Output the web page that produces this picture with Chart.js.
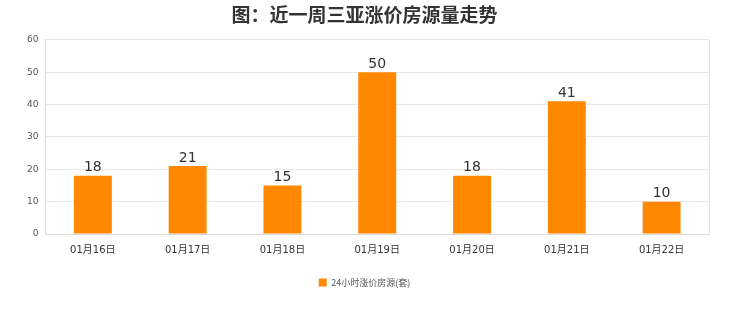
<!DOCTYPE html>
<html><head><meta charset="utf-8">
<script src="https://cdn.jsdelivr.net/npm/chart.js@4/dist/chart.umd.min.js"></script>
<style>html,body{margin:0;padding:0;background:#fff}#w{width:740px;height:312px}</style>
</head><body><div id="w"><canvas id="c"></canvas></div>
<script>
const categories = ["01月16日","01月17日","01月18日","01月19日","01月20日","01月21日","01月22日"];
const values = [18,21,15,50,18,41,10];
const seriesName = "24小时涨价房源(套)";
const titleText = "图：近一周三亚涨价房源量走势";

const labelPlugin = {
  id:'lbl',
  afterDatasetsDraw(chart){
    const ctx = chart.ctx;
    const meta = chart.getDatasetMeta(0);
    ctx.save();
    ctx.font = '14px "DejaVu Sans", sans-serif';
    ctx.fillStyle = '#333';
    ctx.textAlign = 'center';
    ctx.textBaseline = 'bottom';
    meta.data.forEach((b,i)=>{ ctx.fillText(String(values[i]), b.x, b.y-1); });
    ctx.restore();
  }
};
const borderPlugin = {
  id:'bd',
  beforeDatasetsDraw(chart){
    const a = chart.chartArea, ctx = chart.ctx;
    ctx.save(); ctx.strokeStyle='#e0e0e0'; ctx.lineWidth=1;
    ctx.beginPath(); ctx.moveTo(Math.round(a.right)+0.5,a.top); ctx.lineTo(Math.round(a.right)+0.5,a.bottom); ctx.stroke();
    ctx.restore();
  }
};
new Chart(document.getElementById('c'),{
  type:'bar',
  data:{labels:categories,datasets:[{label:seriesName,data:values,backgroundColor:'#ff8800',borderWidth:0,barPercentage:0.4,categoryPercentage:1}]},
  options:{
    responsive:true,maintainAspectRatio:false,animation:false,
    layout:{padding:{left:20,right:31,top:0,bottom:15}},
    plugins:{
      title:{display:true,text:titleText,color:'#333',font:{size:19,weight:'bold',family:'"Noto Sans CJK SC", sans-serif'},padding:{top:3,bottom:14}},
      legend:{position:'bottom',labels:{boxWidth:8,boxHeight:8,color:'#555',font:{size:9,family:'"Noto Sans CJK SC", sans-serif'},padding:15}},
      tooltip:{enabled:false}
    },
    scales:{
      x:{grid:{display:false},border:{color:'#ddd'},ticks:{color:'#333',font:{size:10,family:'"DejaVu Sans", "Noto Sans CJK SC", sans-serif'},padding:2},
         afterFit(s){ s.height += 5; }},
      y:{min:0,max:60,ticks:{stepSize:10,color:'#555',font:{size:9,family:'"DejaVu Sans", sans-serif'},padding:7},grid:{color:'#e8e8e8',drawTicks:false},border:{color:'#ddd'}}
    }
  },
  plugins:[labelPlugin,borderPlugin]
});
</script></body></html>
